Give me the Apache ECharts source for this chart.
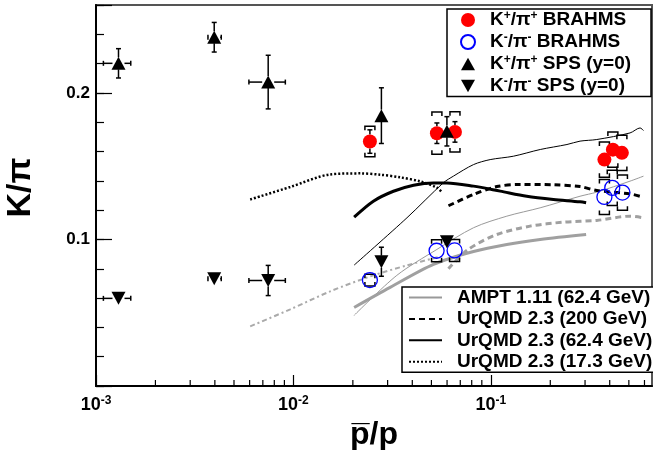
<!DOCTYPE html>
<html><head><meta charset="utf-8">
<script src="https://cdn.jsdelivr.net/npm/echarts@6/dist/echarts.min.js"></script>
<style>html,body{margin:0;padding:0;background:#fff}#c{width:653px;height:450px}</style>
</head><body><div id="c"></div>
<script>
// ---------- data ----------
const brahmsKpX   = [0.0244, 0.0533, 0.0658, 0.376, 0.415, 0.461];
const brahmsKpY   = [0.1668, 0.1725, 0.1734, 0.1545, 0.1613, 0.1591];
const brahmsKpStat= [0.008, 0.007, 0.007, 0.004, 0.004, 0.004];
const brahmsKpSys = [0.0104, 0.0144, 0.0137, 0.012, 0.012, 0.012];

const brahmsKmX   = [0.0244, 0.0531, 0.0655, 0.376, 0.412, 0.464];
const brahmsKmY   = [0.0723, 0.0923, 0.0925, 0.1290, 0.1352, 0.1320];
const brahmsKmStat= [0.002, 0.003, 0.003, 0.003, 0.003, 0.003];
const brahmsKmSys = [0.004, 0.0075, 0.0075, 0.012, 0.012, 0.012];

const spsX     = [0.00130, 0.00397, 0.00745, 0.0279, 0.0599];
const spsXLow  = [0.00109, 0.00369, 0.00595, 0.0279, 0.0599];
const spsXHigh = [0.00150, 0.00431, 0.00910, 0.0279, 0.0599];
const spsKpY   = [0.2202, 0.2380, 0.2074, 0.1845, 0.1738];
const spsKpErr = [0.0100, 0.0101, 0.0183, 0.0190, 0.0100];
const spsKmY   = [0.0598, 0.0732, 0.0720, 0.0848, 0.0984];
const spsKmErr = [0.003, 0.003, 0.0103, 0.0099, 0.004];

const amptKpX = [0.0203, 0.0376, 0.0575, 0.0646, 0.0817, 0.0992, 0.130, 0.178, 0.243, 0.283, 0.344, 0.507, 0.570, 0.593];
const amptKpY = [0.0825, 0.1148, 0.1387, 0.1432, 0.1511, 0.1545, 0.1568, 0.1614, 0.1648, 0.1671, 0.1682, 0.1727, 0.1761, 0.1743];
const amptKmX = [0.0203, 0.0334, 0.0533, 0.0817, 0.1205, 0.1777, 0.283, 0.344, 0.507, 0.593];
const amptKmY = [0.0482, 0.0755, 0.0932, 0.1080, 0.1159, 0.1216, 0.1295, 0.1323, 0.1398, 0.1432];

const urq62KpX = [0.0203, 0.0254, 0.0321, 0.0406, 0.0512, 0.0599, 0.0817, 0.1115, 0.152, 0.2075, 0.283, 0.3038];
const urq62KpY = [0.1152, 0.1261, 0.1329, 0.1370, 0.1386, 0.1386, 0.1364, 0.1330, 0.1295, 0.1273, 0.1257, 0.1250];
const urq62KmX = [0.0203, 0.0309, 0.0512, 0.0817, 0.1205, 0.1777, 0.3038];
const urq62KmY = [0.0536, 0.0673, 0.0830, 0.0918, 0.0966, 0.1000, 0.1034];

const urq200KpX = [0.061, 0.0817, 0.1073, 0.1408, 0.2075, 0.283, 0.344, 0.507, 0.593];
const urq200KpY = [0.1230, 0.1307, 0.1361, 0.1375, 0.1373, 0.1361, 0.1334, 0.1311, 0.1288];
const urq200KmX = [0.061, 0.0764, 0.1073, 0.158, 0.2332, 0.344, 0.507, 0.593];
const urq200KmY = [0.0800, 0.0930, 0.1034, 0.1091, 0.1118, 0.1130, 0.1159, 0.1148];

const urq17KpX = [0.00604, 0.00963, 0.01536, 0.0218, 0.0275, 0.0347, 0.0439, 0.0533, 0.0564];
const urq17KpY = [0.1273, 0.1358, 0.1444, 0.1451, 0.1442, 0.1424, 0.1396, 0.1354, 0.1324];
const urq17KmX = [0.00604, 0.00963, 0.01536, 0.0254, 0.0376, 0.0555];
const urq17KmY = [0.0407, 0.0523, 0.0646, 0.0755, 0.0823, 0.0884];

const xMinorTicks = [0.002,0.003,0.004,0.005,0.006,0.007,0.008,0.009,
                     0.02,0.03,0.04,0.05,0.06,0.07,0.08,0.09,
                     0.2,0.3,0.4,0.5,0.6];
const yTickValues = [0.1, 0.2];
const yTickLabels = ['0.1', '0.2'];

// ---------- chart ----------
const FONT = '"Liberation Sans", Arial, Helvetica, sans-serif';
const chart = echarts.init(document.getElementById('c'), null, {renderer: 'canvas'});
const zip = (xs, ys) => xs.map((x, i) => [x, ys[i]]);
const TRI_UP = 'path://M5,0 L10,9 L0,9 Z';
const TRI_DN = 'path://M0,0 L10,0 L5,9 Z';

function errRows(xs, ys, err, xl, xh) {
  return xs.map((x, i) => [x, ys[i], ys[i] - err[i], ys[i] + err[i], xl ? xl[i] : x, xh ? xh[i] : x]);
}
function bracketRows(xs, ys, sys) {
  return xs.map((x, i) => [x, ys[i] - sys[i], ys[i] + sys[i]]);
}
function makeErr(r) {
  return function (params, api) {
    const x = api.value(0), y = api.value(1);
    const c = api.coord([x, y]);
    const pl = api.coord([x, api.value(2)]), ph = api.coord([x, api.value(3)]);
    const xl = api.coord([api.value(4), y]), xh = api.coord([api.value(5), y]);
    const st = {stroke: '#000', lineWidth: 1.5};
    const cap = 2.5;
    const ch = [];
    if (ph[1] < c[1] - r) {
      ch.push({type: 'line', shape: {x1: c[0], y1: c[1] - r, x2: c[0], y2: ph[1]}, style: st});
      ch.push({type: 'line', shape: {x1: c[0] - cap, y1: ph[1], x2: c[0] + cap, y2: ph[1]}, style: st});
    }
    if (pl[1] > c[1] + r) {
      ch.push({type: 'line', shape: {x1: c[0], y1: c[1] + r, x2: c[0], y2: pl[1]}, style: st});
      ch.push({type: 'line', shape: {x1: c[0] - cap, y1: pl[1], x2: c[0] + cap, y2: pl[1]}, style: st});
    }
    if (xl[0] < c[0] - r) {
      ch.push({type: 'line', shape: {x1: xl[0], y1: c[1], x2: c[0] - r, y2: c[1]}, style: st});
      ch.push({type: 'line', shape: {x1: xl[0], y1: c[1] - cap, x2: xl[0], y2: c[1] + cap}, style: st});
    }
    if (xh[0] > c[0] + r) {
      ch.push({type: 'line', shape: {x1: c[0] + r, y1: c[1], x2: xh[0], y2: c[1]}, style: st});
      ch.push({type: 'line', shape: {x1: xh[0], y1: c[1] - cap, x2: xh[0], y2: c[1] + cap}, style: st});
    }
    return {type: 'group', children: ch};
  };
}
function renderBracket(params, api) {
  const x = api.value(0);
  const pl = api.coord([x, api.value(1)]), ph = api.coord([x, api.value(2)]);
  const w = 5, l = 4;
  const st = {stroke: '#000', lineWidth: 1.5, fill: null};
  return {type: 'group', children: [
    {type: 'polyline', shape: {points: [[ph[0] - w, ph[1] + l], [ph[0] - w, ph[1]], [ph[0] + w, ph[1]], [ph[0] + w, ph[1] + l]]}, style: st},
    {type: 'polyline', shape: {points: [[pl[0] - w, pl[1] - l], [pl[0] - w, pl[1]], [pl[0] + w, pl[1]], [pl[0] + w, pl[1] - l]]}, style: st}
  ]};
}
function renderMinor(params, api) {
  const p = api.coord([api.value(0), 0]);
  return {type: 'line', shape: {x1: p[0], y1: p[1], x2: p[0], y2: p[1] - 6}, style: {stroke: '#000', lineWidth: 1.2}};
}

const legendText = {
  'K+/π+ BRAHMS': '{sp|}{m|K}{s|+}{m|/π}{s|+}{m| BRAHMS}',
  'K-/π- BRAHMS': '{sp|}{m|K}{s|-}{m|/π}{s|-}{m| BRAHMS}',
  'K+/π+ SPS': '{sp|}{m|K}{s|+}{m|/π}{s|+}{m| SPS (y=0)}',
  'K-/π- SPS': '{sp|}{m|K}{s|-}{m|/π}{s|-}{m| SPS (y=0)}'
};
const richLegend = {
  sp: {width: 10},
  m: {fontSize: 19, fontWeight: 'bold', fontFamily: FONT, color: '#000', lineHeight: 20},
  s: {fontSize: 12, fontWeight: 'bold', fontFamily: FONT, color: '#000', verticalAlign: 'top', lineHeight: 12}
};

function line(name, xs, ys, color, width, type, z) {
  return {type: 'line', name: name, data: zip(xs, ys), symbol: 'none', smooth: 0.3,
          lineStyle: {color: color, width: width, type: type}, itemStyle: {color: color},
          z: z || 2, silent: true, clip: true};
}

const option = {
  animation: false,
  backgroundColor: '#fff',
  grid: {left: 96, right: 1, top: 5, bottom: 64, show: true, borderColor: '#555', borderWidth: 2,
         backgroundColor: 'transparent', outerBoundsMode: 'none', containLabel: false},
  xAxis: {
    type: 'log', logBase: 10, min: 0.001, max: 0.655,
    axisLine: {show: true, lineStyle: {color: '#000', width: 2}},
    axisTick: {inside: true, length: 11, lineStyle: {color: '#000', width: 1.2}},
    splitLine: {show: false}, minorTick: {show: false},
    axisLabel: {
      margin: 9, showMaxLabel: false,
      formatter: function (v) {
        const e = Math.round(Math.log10(v));
        if (Math.abs(Math.log10(v) - e) > 1e-6) return '';
        return '{b|10}{s|' + e + '}';
      },
      rich: {
        b: {fontSize: 18, fontWeight: 'bold', fontFamily: FONT, color: '#000', lineHeight: 20},
        s: {fontSize: 12, fontWeight: 'bold', fontFamily: FONT, color: '#000', verticalAlign: 'top', lineHeight: 12}
      }
    },
    name: 'p\u0305/p', nameLocation: 'middle', nameGap: 28,
    nameTextStyle: {fontSize: 32, fontWeight: 'bold', fontFamily: FONT, color: '#000'}
  },
  yAxis: [{
    type: 'value', min: 0, max: 0.26, interval: 0.02,
    axisLine: {show: true, lineStyle: {color: '#000', width: 2}},
    axisTick: {inside: true, length: 8, lineStyle: {color: '#000', width: 1.2}},
    splitLine: {show: false},
    axisLabel: {
      margin: 6, fontSize: 17, fontWeight: 'bold', fontFamily: FONT, color: '#000',
      formatter: function (v) {
        for (let i = 0; i < yTickValues.length; i++) if (Math.abs(v - yTickValues[i]) < 1e-9) return yTickLabels[i];
        return '';
      }
    },
    name: 'K/π', nameLocation: 'middle', nameGap: 58, nameRotate: 90,
    nameTextStyle: {fontSize: 34, fontWeight: 'bold', fontFamily: FONT, color: '#000', padding: [0, 0, 0, 16]}
  }, {
    type: 'value', min: 0, max: 0.26, interval: 0.1, position: 'left',
    axisLine: {show: false},
    axisTick: {inside: true, length: 16, lineStyle: {color: '#000', width: 1.2}},
    axisLabel: {show: false}, splitLine: {show: false}
  }],
  legend: [{
    data: [
      {name: 'K+/π+ BRAHMS', icon: 'circle'},
      {name: 'K-/π- BRAHMS', icon: 'circle'},
      {name: 'K+/π+ SPS', icon: TRI_UP},
      {name: 'K-/π- SPS', icon: TRI_DN}
    ],
    orient: 'vertical', left: 447, top: 9, itemWidth: 14, itemHeight: 14, itemGap: 2.5,
    padding: [1, 20, 1, 13], borderColor: '#000', borderWidth: 1.5, backgroundColor: '#fff',
    selectedMode: false, formatter: n => legendText[n], textStyle: {rich: richLegend}
  }, {
    data: ['AMPT 1.11 (62.4 GeV)', 'UrQMD 2.3 (200 GeV)', 'UrQMD 2.3 (62.4 GeV)', 'UrQMD 2.3 (17.3 GeV)'],
    orient: 'vertical', left: 402, top: 287, itemWidth: 33, itemHeight: 14, itemGap: 2.4,
    padding: [1, 4, 1, 6], borderColor: '#000', borderWidth: 1.5, backgroundColor: '#fff',
    itemStyle: {opacity: 0},
    selectedMode: false, formatter: n => '{sp|}{m|' + n + '}', textStyle: {rich: richLegend}
  }],
  series: [
    line('UrQMD 2.3 (17.3 GeV)', urq17KpX, urq17KpY, '#000', 2.5, [2, 2]),
    line('UrQMD 17.3 K-', urq17KmX, urq17KmY, '#aaa', 2, [5, 3, 2, 3]),
    line('AMPT K+', amptKpX, amptKpY, '#000', 1),
    line('AMPT 1.11 (62.4 GeV)', amptKmX, amptKmY, '#999', 1),
    line('UrQMD 2.3 (62.4 GeV)', urq62KpX, urq62KpY, '#000', 3),
    line('UrQMD 62.4 K-', urq62KmX, urq62KmY, '#a0a0a0', 3),
    line('UrQMD 2.3 (200 GeV)', urq200KpX, urq200KpY, '#000', 3, [6, 4]),
    line('UrQMD 200 K-', urq200KmX, urq200KmY, '#a0a0a0', 3, [6, 4]),
    {type: 'custom', name: 'minorTicks', data: xMinorTicks.map(v => [v, 0]), renderItem: renderMinor, silent: true, z: 1, clip: false},
    {type: 'custom', name: 'sysKp', data: bracketRows(brahmsKpX, brahmsKpY, brahmsKpSys), renderItem: renderBracket, silent: true, z: 3},
    {type: 'custom', name: 'sysKm', data: bracketRows(brahmsKmX, brahmsKmY, brahmsKmSys), renderItem: renderBracket, silent: true, z: 3},
    {type: 'custom', name: 'statKp', data: errRows(brahmsKpX, brahmsKpY, brahmsKpStat), renderItem: makeErr(7), silent: true, z: 3},
    {type: 'custom', name: 'statKm', data: errRows(brahmsKmX, brahmsKmY, brahmsKmStat), renderItem: makeErr(7.5), silent: true, z: 3},
    {type: 'custom', name: 'errSpsKp', data: errRows(spsX, spsKpY, spsKpErr, spsXLow, spsXHigh), renderItem: makeErr(6), silent: true, z: 3},
    {type: 'custom', name: 'errSpsKm', data: errRows(spsX, spsKmY, spsKmErr, spsXLow, spsXHigh), renderItem: makeErr(6), silent: true, z: 3},
    {type: 'scatter', name: 'K+/π+ BRAHMS', data: zip(brahmsKpX, brahmsKpY), symbol: 'circle', symbolSize: 14,
     itemStyle: {color: '#ff0000', opacity: 1}, z: 5},
    {type: 'scatter', name: 'K-/π- BRAHMS', data: zip(brahmsKmX, brahmsKmY), symbol: 'circle', symbolSize: 15,
     itemStyle: {color: 'rgba(0,0,0,0)', borderColor: '#0000ff', borderWidth: 1.3, opacity: 1}, z: 5},
    {type: 'scatter', name: 'K+/π+ SPS', data: zip(spsX, spsKpY), symbol: TRI_UP, symbolSize: [14, 13],
     itemStyle: {color: '#000', opacity: 1}, z: 5},
    {type: 'scatter', name: 'K-/π- SPS', data: zip(spsX, spsKmY), symbol: TRI_DN, symbolSize: [14, 13],
     itemStyle: {color: '#000', opacity: 1}, z: 5}
  ]
};
chart.setOption(option);
</script>
</body></html>
